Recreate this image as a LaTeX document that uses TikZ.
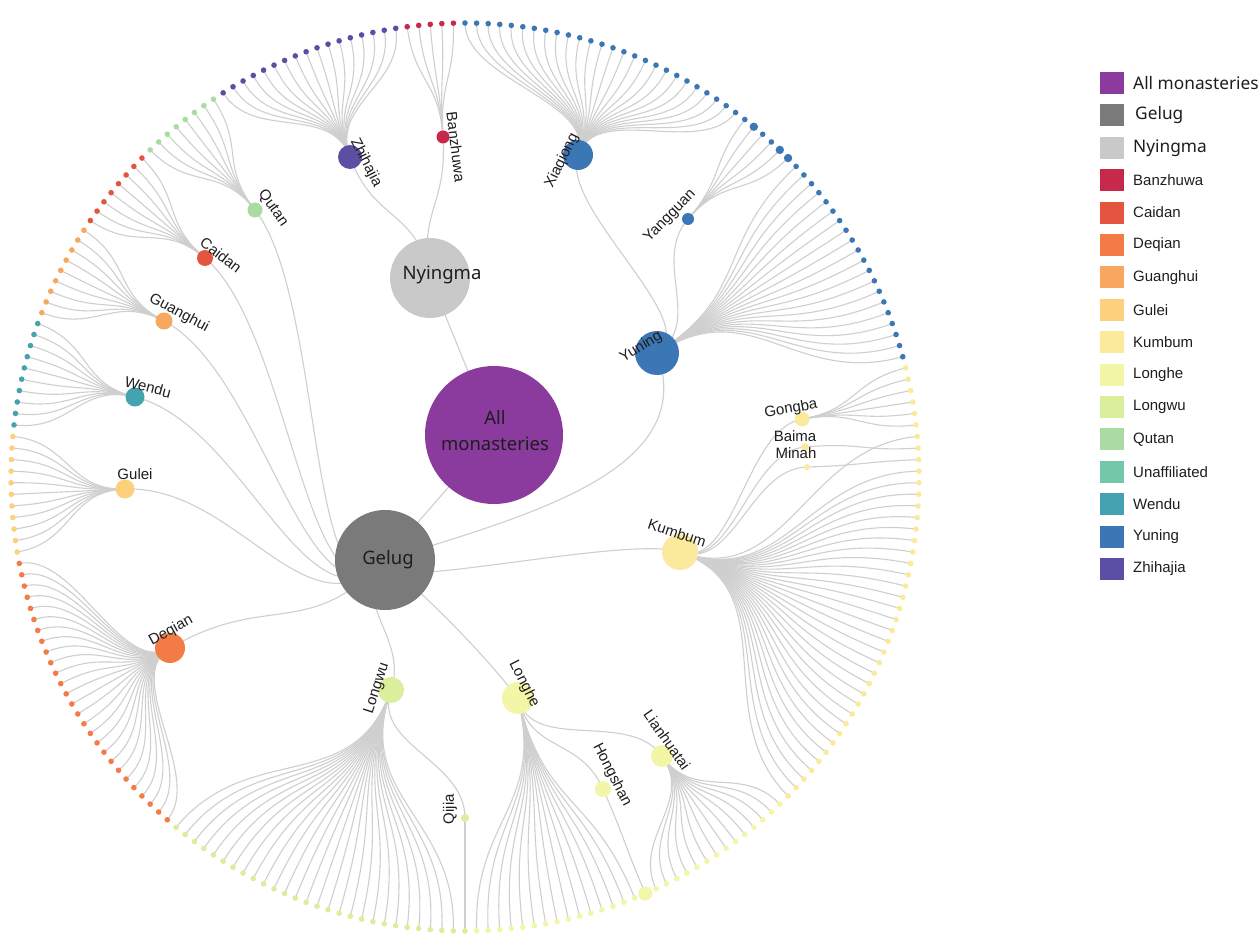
\documentclass[tikz,border=0pt]{standalone}
\usepackage{fontspec}
\setmainfont{Liberation Sans}
\newfontfamily\bigfont{Noto Sans}
\definecolor{linkgray}{HTML}{CFCFCF}
\definecolor{txt}{HTML}{1E1E1E}
\definecolor{cAll}{HTML}{8B3A9E}
\definecolor{cGelug}{HTML}{7A7A7A}
\definecolor{cNying}{HTML}{C9C9C9}
\definecolor{cBan}{HTML}{C8284B}
\definecolor{cCai}{HTML}{E4553F}
\definecolor{cDeq}{HTML}{F37B45}
\definecolor{cGuan}{HTML}{F8A75E}
\definecolor{cGul}{HTML}{FDD07D}
\definecolor{cKum}{HTML}{FCEA9C}
\definecolor{cLonghe}{HTML}{F2F6A6}
\definecolor{cLongwu}{HTML}{DAEE9C}
\definecolor{cQut}{HTML}{AADBA3}
\definecolor{cUna}{HTML}{74C7A8}
\definecolor{cWen}{HTML}{44A3AE}
\definecolor{cYun}{HTML}{3B76B5}
\definecolor{cZhi}{HTML}{5B4FA3}
\pgfdeclarelayer{linklayer}
\pgfsetlayers{linklayer,main}
\newcommand\ccx{465}
\newcommand\ccy{477}
\newcommand\rleaf{454}
\newcommand\dang{1.463415}
\newcommand\getpolar[2]{%
  \pgfmathsetmacro\myA{atan2(\ccy-(#2),(#1)-\ccx)}%
  \pgfmathsetmacro\myR{100*veclen(((#1)-\ccx)/100,(\ccy-(#2))/100)}%
}
\newcommand\rlink[6]{%
  \getpolar{#2}{#3}\let\aA\myA\let\rA\myR
  \getpolar{#5}{#6}\let\aB\myA\let\rB\myR
  \pgfmathsetmacro\mR{(\rA+\rB)/2}%
  \draw[link] (#1.center) .. controls ({\ccx+\mR*cos(\aA)},{\ccy-\mR*sin(\aA)}) and ({\ccx+\mR*cos(\aB)},{\ccy-\mR*sin(\aB)}) .. (#4.center);
}
\newcommand\fanlinks[5]{%
  \getpolar{#2}{#3}\let\aA\myA\let\rA\myR
  \pgfmathsetmacro\mR{(\rA+\rleaf)/2}%
  \foreach \k in {#4,...,#5}{%
    \pgfmathsetmacro\aL{270+\k*\dang}%
    \draw[link] (#1.center) .. controls ({\ccx+\mR*cos(\aA)},{\ccy-\mR*sin(\aA)}) and ({\ccx+\mR*cos(\aL)},{\ccy-\mR*sin(\aL)}) .. (leaf\k.center);
  }%
}
\newcommand\leafdots[3]{%
  \foreach \k in {#1,...,#2}{%
    \pgfmathsetmacro\aL{270+\k*\dang}%
    \node[leafdot,fill=#3] (leaf\k) at ({\ccx+\rleaf*cos(\aL)},{\ccy-\rleaf*sin(\aL)}) {};
  }%
}
\begin{document}
\begin{tikzpicture}[x=1pt,y=-1pt,
  link/.style={draw=linkgray,line width=1.1pt},
  leafdot/.style={circle,inner sep=0pt,minimum size=5.6pt},
  inode/.style={circle,inner sep=0pt},
  lbl/.style={font=\fontsize{15}{18}\selectfont,text=txt,inner sep=0pt},
  big/.style={font=\bigfont\fontsize{18.5}{26}\selectfont,text=txt,align=center,inner sep=0pt},
  lgbig/.style={font=\bigfont\fontsize{17.3}{20}\selectfont,text=txt,inner sep=0pt,anchor=west},
  lgbox/.style={minimum width=24pt,minimum height=22pt,inner sep=0pt}]
\useasboundingbox (0,0) rectangle (1258,936);
% leaves
\leafdots{0}{0}{cLongwu}
\leafdots{1}{30}{cLonghe}
\leafdots{31}{71}{cKum}
\leafdots{72}{123}{cYun}
\leafdots{124}{128}{cBan}
\leafdots{129}{145}{cZhi}
\leafdots{146}{153}{cQut}
\leafdots{154}{161}{cCai}
\leafdots{162}{170}{cGuan}
\leafdots{171}{180}{cWen}
\leafdots{181}{191}{cGul}
\leafdots{192}{218}{cDeq}
\leafdots{219}{245}{cLongwu}
\fill[cYun] (leaf92.center) circle (4.2pt);
\fill[cYun] (leaf93.center) circle (4.2pt);
\fill[cYun] (leaf96.center) circle (4.2pt);
\fill[cLonghe] (leaf16.center) circle (7pt);
% internal nodes
\node[inode,fill=cAll,minimum size=138pt] (root) at (494,435) {};
\node[inode,fill=cGelug,minimum size=100pt] (Gelug) at (385,560) {};
\node[inode,fill=cNying,minimum size=80pt] (Nyingma) at (430,278) {};
\node[inode,fill=cZhi,minimum size=24pt] (Zhihajia) at (350,157) {};
\node[inode,fill=cBan,minimum size=13pt] (Banzhuwa) at (443,137) {};
\node[inode,fill=cYun,minimum size=30pt] (Xiaqiong) at (578,155) {};
\node[inode,fill=cYun,minimum size=12pt] (Yangguan) at (688,219) {};
\node[inode,fill=cYun,minimum size=44pt] (Yuning) at (657,353) {};
\node[inode,fill=cKum,minimum size=36pt] (Kumbum) at (680,552) {};
\node[inode,fill=cKum,minimum size=15pt] (Gongba) at (802,419) {};
\node[inode,fill=cKum,minimum size=8pt] (Baima) at (805,447) {};
\node[inode,fill=cKum,minimum size=6pt] (Minah) at (807,467) {};
\node[inode,fill=cLonghe,minimum size=32pt] (Longhe) at (518,698) {};
\node[inode,fill=cLonghe,minimum size=16pt] (Hongshan) at (603,789) {};
\node[inode,fill=cLonghe,minimum size=22pt] (Lianhuatai) at (662,756) {};
\node[inode,fill=cLongwu,minimum size=26pt] (Longwu) at (391,690) {};
\node[inode,fill=cLongwu,minimum size=8pt] (Qijia) at (465,818) {};
\node[inode,fill=cDeq,minimum size=30pt] (Deqian) at (170,648) {};
\node[inode,fill=cGul,minimum size=19pt] (Gulei) at (125,489) {};
\node[inode,fill=cWen,minimum size=19pt] (Wendu) at (135,397) {};
\node[inode,fill=cGuan,minimum size=17pt] (Guanghui) at (164,321) {};
\node[inode,fill=cCai,minimum size=16pt] (Caidan) at (205,258) {};
\node[inode,fill=cQut,minimum size=15pt] (Qutan) at (255,210) {};
% links
\begin{pgfonlayer}{linklayer}
\fill[white] (0,0) rectangle (1258,936);
\draw[link] (root.center) -- (Nyingma.center);
\draw[link] (root.center) -- (Gelug.center);
\rlink{Nyingma}{430}{278}{Zhihajia}{350}{157}
\rlink{Nyingma}{430}{278}{Banzhuwa}{443}{137}
\draw[link] (Gelug.center) .. controls (530,515) and (700,470) .. (Yuning.center);
\rlink{Gelug}{385}{560}{Kumbum}{680}{552}
\draw[link] (Gelug.center) .. controls (440,610) and (480,650) .. (Longhe.center);
\rlink{Gelug}{385}{560}{Longwu}{391}{690}
\rlink{Gelug}{385}{560}{Deqian}{170}{648}
\rlink{Gelug}{385}{560}{Gulei}{125}{489}
\rlink{Gelug}{385}{560}{Wendu}{135}{397}
\rlink{Gelug}{385}{560}{Guanghui}{164}{321}
\rlink{Gelug}{385}{560}{Caidan}{205}{258}
\rlink{Gelug}{385}{560}{Qutan}{255}{210}
\rlink{Yuning}{657}{353}{Xiaqiong}{578}{155}
\rlink{Yuning}{657}{353}{Yangguan}{688}{219}
\rlink{Kumbum}{680}{552}{Gongba}{802}{419}
\rlink{Kumbum}{680}{552}{Baima}{805}{447}
\rlink{Kumbum}{680}{552}{Minah}{807}{467}
\rlink{Longhe}{518}{698}{Hongshan}{603}{789}
\rlink{Longhe}{518}{698}{Lianhuatai}{662}{756}
\rlink{Longwu}{391}{690}{Qijia}{465}{818}
\fanlinks{Qijia}{465}{818}{0}{0}
\fanlinks{Longhe}{518}{698}{1}{15}
\fanlinks{Hongshan}{603}{789}{16}{16}
\fanlinks{Lianhuatai}{662}{756}{17}{30}
\fanlinks{Kumbum}{680}{552}{31}{62}
\fanlinks{Minah}{807}{467}{63}{63}
\fanlinks{Baima}{805}{447}{64}{64}
\fanlinks{Kumbum}{680}{552}{65}{65}
\fanlinks{Gongba}{802}{419}{66}{71}
\fanlinks{Yuning}{657}{353}{72}{91}
\fanlinks{Yangguan}{688}{219}{92}{97}
\fanlinks{Xiaqiong}{578}{155}{98}{123}
\fanlinks{Banzhuwa}{443}{137}{124}{128}
\fanlinks{Zhihajia}{350}{157}{129}{145}
\fanlinks{Qutan}{255}{210}{146}{153}
\fanlinks{Caidan}{205}{258}{154}{161}
\fanlinks{Guanghui}{164}{321}{162}{170}
\fanlinks{Wendu}{135}{397}{171}{180}
\fanlinks{Gulei}{125}{489}{181}{191}
\fanlinks{Deqian}{170}{648}{192}{218}
\fanlinks{Longwu}{391}{690}{219}{245}
\end{pgfonlayer}
% labels
\node[lbl,rotate=-63] (tZhihajia) at (366,163) {Zhihajia};
\node[lbl,rotate=-83] (tBanzhuwa) at (456,147) {Banzhuwa};
\node[lbl,rotate=64] (tXiaqiong) at (562,161) {Xiaqiong};
\node[lbl,rotate=46] (tYangguan) at (670,216) {Yangguan};
\node[lbl,rotate=31] (tYuning) at (641,347) {Yuning};
\node[lbl,rotate=-55] (tQutan) at (273,208) {Qutan};
\node[lbl,rotate=-38] (tCaidan) at (221,255) {Caidan};
\node[lbl,rotate=-28] (tGuanghui) at (179,313) {Guanghui};
\node[lbl,rotate=-15] (tWendu) at (148,387) {Wendu};
\node[lbl] (tGulei) at (135,474) {Gulei};
\node[lbl,rotate=29] (tDeqian) at (171,631) {Deqian};
\node[lbl,rotate=72] (tLongwu) at (377,688) {Longwu};
\node[lbl,rotate=90] (tQijia) at (450,809) {Qijia};
\node[lbl,rotate=-63] (tLonghe) at (524,684) {Longhe};
\node[lbl,rotate=-63] (tHongshan) at (612,775) {Hongshan};
\node[lbl,rotate=-55] (tLianhuatai) at (667,740) {Lianhuatai};
\node[lbl,rotate=-18] (tKumbum) at (677,533) {Kumbum};
\node[lbl,rotate=10] (tGongba) at (791,409) {Gongba};
\node[lbl] (tBaima) at (795,436) {Baima};
\node[lbl] (tMinah) at (796,453) {Minah};
\node[big] (tNyingma) at (442,275) {Nyingma};
\node[big] (tAll) at (495,431) {All\\monasteries};
\node[big] (tGelug) at (388,560) {Gelug};
% legend
\node[lgbox,fill=cAll] (lg0) at (1112,83) {};
\node[lgbig] (lgt0) at (1133,83) {All monasteries};
\node[lgbox,fill=cGelug] (lg1) at (1112,115.4) {};
\node[lgbig] (lgt1) at (1135,115.4) {Gelug};
\node[lgbox,fill=cNying] (lg2) at (1112,147.8) {};
\node[lgbig] (lgt2) at (1133,147.8) {Nyingma};
\foreach \c/\t [count=\i from 3] in {cBan/Banzhuwa,cCai/Caidan,cDeq/Deqian,cGuan/Guanghui,cGul/Gulei,cKum/Kumbum,cLonghe/Longhe,cLongwu/Longwu,cQut/Qutan,cUna/Unaffiliated,cWen/Wendu,cYun/Yuning,cZhi/Zhihajia}{
  \pgfmathsetmacro\ly{83+32.4*\i}
  \node[lgbox,fill=\c] (lg\i) at (1112,\ly) {};
  \node[lbl,anchor=west] (lgt\i) at (1133,\ly) {\t};
}
\end{tikzpicture}
\end{document}
